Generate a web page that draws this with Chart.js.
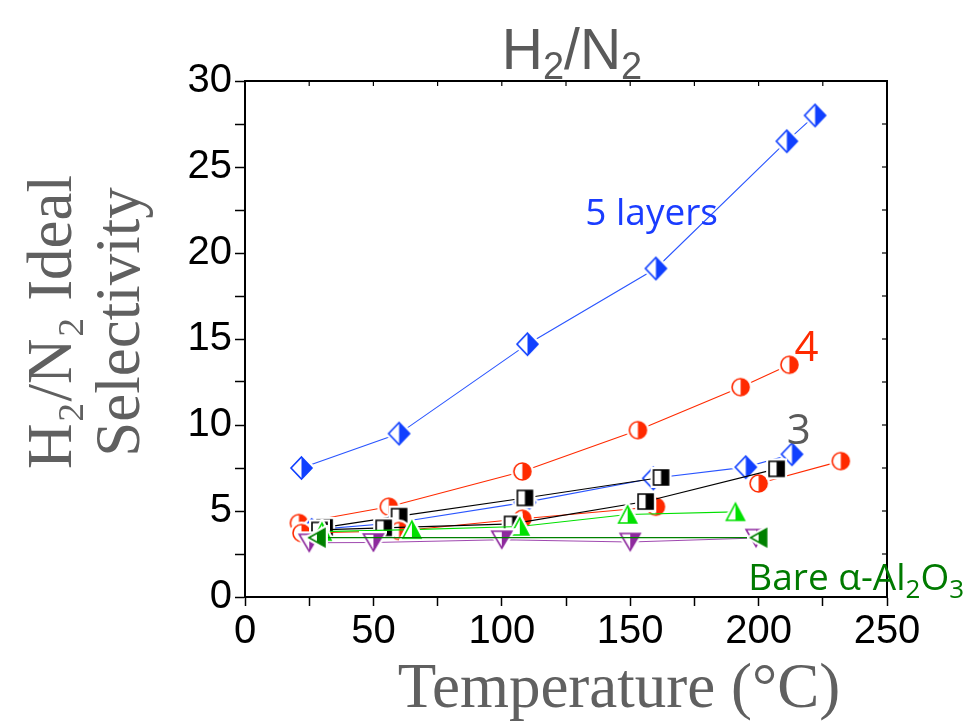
<!DOCTYPE html>
<html>
<head>
<meta charset="utf-8">
<script src="https://cdn.jsdelivr.net/npm/chart.js@4.4.1/dist/chart.umd.min.js"></script>
<style>
  body { margin: 0; background: #fff; }
  #c { display: block; }
</style>
</head>
<body>
<canvas id="c" width="969" height="726"></canvas>
<script>
// ---- data (temperature in °C, ideal H2/N2 selectivity) ----
const layers5T = [22, 60, 110, 160, 211, 222];
const layers5V = [7.5, 9.5, 14.7, 19.1, 26.5, 28.0];

const layers4T = [21, 56, 108, 153, 193, 212];
const layers4V = [4.3, 5.25, 7.3, 9.7, 12.2, 13.5];

const redLowT = [22, 60, 108, 160];
const redLowV = [3.72, 3.84, 4.55, 5.25];
const redHighT = [200, 232];
const redHighV = [6.6, 7.9];

const blackUpT = [31, 60, 109, 162];
const blackUpV = [4.05, 4.7, 5.76, 6.95];
const blackLowT = [29, 54, 104, 156, 207];
const blackLowV = [3.9, 4.02, 4.25, 5.55, 7.45];

const blueLowT = [26, 58, 109, 159, 195, 213];
const blueLowV = [3.9, 4.3, 5.5, 6.9, 7.55, 8.3];

const greenT = [30, 65, 107, 149, 191];
const greenV = [3.8, 3.92, 4.1, 4.8, 4.95];

const bareT = [28, 200];
const bareV = [3.45, 3.45];

const purpleT = [25, 50, 100, 150, 199];
const purpleV = [3.15, 3.17, 3.33, 3.2, 3.43];

const xTicks = [0, 50, 100, 150, 200, 250];
const yTicks = [0, 5, 10, 15, 20, 25, 30];

const pts = (T, V) => T.map((t, i) => ({ x: t, y: V[i] }));

// half filled (right half) markers with white halo, origin style
function marker(shape, color, w, h) {
  const pad = 4;
  const c = document.createElement('canvas');
  c.width = w + pad * 2; c.height = h + pad * 2;
  const g = c.getContext('2d');
  const cx = c.width / 2, cy = c.height / 2;
  const path = () => {
    g.beginPath();
    if (shape == 'diamond') {
      g.moveTo(cx, cy - h / 2); g.lineTo(cx + w / 2, cy); g.lineTo(cx, cy + h / 2); g.lineTo(cx - w / 2, cy); g.closePath();
    } else if (shape == 'circle') {
      g.arc(cx, cy, w / 2, 0, Math.PI * 2);
    } else if (shape == 'square') {
      g.rect(cx - w / 2, cy - h / 2, w, h);
    } else if (shape == 'up') {
      g.moveTo(cx, cy - h / 2); g.lineTo(cx + w / 2, cy + h / 2); g.lineTo(cx - w / 2, cy + h / 2); g.closePath();
    } else if (shape == 'down') {
      g.moveTo(cx - w / 2, cy - h / 2); g.lineTo(cx + w / 2, cy - h / 2); g.lineTo(cx, cy + h / 2); g.closePath();
    } else if (shape == 'left') {
      g.moveTo(cx - w / 2, cy); g.lineTo(cx + w / 2, cy - h / 2); g.lineTo(cx + w / 2, cy + h / 2); g.closePath();
    }
  };
  path(); g.lineWidth = 6; g.strokeStyle = '#fff'; g.stroke();
  g.fillStyle = '#fff'; g.fill();
  g.save(); g.beginPath(); g.rect(cx, 0, c.width, c.height); g.clip();
  path(); g.fillStyle = color; g.fill(); g.restore();
  path(); g.lineWidth = 1.6; g.strokeStyle = color; g.stroke();
  return c;
}

const BLUE = '#1040ff', RED = '#ff2a00', BLACK = '#000', GREEN = '#00e000', DKGREEN = '#008000', PURPLE = '#8e2a9e';

const ds = (T, V, color, lineColor, shape, w, h) => ({
  data: pts(T, V),
  showLine: true,
  borderColor: lineColor,
  borderWidth: 1.1,
  pointStyle: marker(shape, color, w, h),
  pointRadius: 9
});

const datasets = [
  ds(bareT, bareV, DKGREEN, DKGREEN, 'left', 16, 18),
  ds(purpleT, purpleV, PURPLE, '#a04ab0', 'down', 20, 17),
  ds(greenT, greenV, GREEN, GREEN, 'up', 18, 17),
  ds(blackLowT, blackLowV, BLACK, BLACK, 'square', 15, 15),
  ds(redLowT, redLowV, RED, RED, 'circle', 17, 17),
  ds(redHighT, redHighV, RED, RED, 'circle', 17, 17),
  ds(blackUpT, blackUpV, BLACK, BLACK, 'square', 15, 15),
  ds(blueLowT, blueLowV, BLUE, '#2a55ff', 'diamond', 21, 22),
  ds(layers4T, layers4V, RED, RED, 'circle', 17, 17),
  ds(layers5T, layers5V, BLUE, '#2a55ff', 'diamond', 21, 22)
];

// frame, inner ticks, axis titles and labels
const extras = {
  id: 'extras',
  afterDraw(chart) {
    const g = chart.ctx, xs = chart.scales.x, ys = chart.scales.y;
    const a = chart.chartArea;
    g.save();
    g.strokeStyle = '#000'; g.lineWidth = 2;
    g.beginPath();
    g.moveTo(a.left - 1, a.top); g.lineTo(a.right, a.top); g.lineTo(a.right, a.bottom + 1);
    g.stroke();
    g.lineWidth = 1.2;
    for (let v = 25; v < 250; v += 25) {
      const p = xs.getPixelForValue(v);
      g.beginPath(); g.moveTo(p, a.top); g.lineTo(p, a.top + 5); g.stroke();
    }
    for (let v = 2.5; v < 30; v += 2.5) {
      const p = ys.getPixelForValue(v);
      g.beginPath(); g.moveTo(a.right, p); g.lineTo(a.right - 5, p); g.stroke();
    }

    // title H2/N2
    g.fillStyle = '#5a5a5a';
    g.textBaseline = 'alphabetic';
    g.textAlign = 'left';
    const big = '57px "Liberation Sans Narrow", "Liberation Sans", Arial';
    const sub = '38px "Liberation Sans Narrow", "Liberation Sans", Arial';
    const parts = [['H', big, 0], ['2', sub, 10], ['/N', big, 0], ['2', sub, 10]];
    let tw = 0;
    parts.forEach(p => { g.font = p[1]; tw += g.measureText(p[0]).width; });
    let tx = 572 - tw / 2;
    parts.forEach(p => { g.font = p[1]; g.fillText(p[0], tx, 69 + p[2]); tx += g.measureText(p[0]).width; });

    // axis titles
    g.fillStyle = '#606060';
    g.font = '63px "Liberation Serif", "Times New Roman", serif';
    g.textAlign = 'center';
    g.fillText('Temperature (°C)', 619, 707);
    g.save();
    g.translate(0, 322);
    g.rotate(-Math.PI / 2);
    g.textBaseline = 'middle';
    g.fillText('H₂/N₂ Ideal', 0, 54);
    g.fillText('Selectivity', 0, 122);
    g.restore();

    // series labels
    g.textAlign = 'left';
    g.textBaseline = 'alphabetic';
    g.font = '37px "Open Sans", sans-serif';
    g.fillStyle = '#1a3cff';
    g.fillText('5 layers', xs.getPixelForValue(132.5), ys.getPixelForValue(21.6));
    g.font = '42px "Open Sans", sans-serif';
    g.fillStyle = '#ff2a00';
    g.fillText('4', xs.getPixelForValue(214), ys.getPixelForValue(13.7));
    g.fillStyle = '#5a5a5a';
    g.fillText('3', xs.getPixelForValue(211), ys.getPixelForValue(8.9));
    g.fillStyle = '#007a00';
    const bx = xs.getPixelForValue(196), by = ys.getPixelForValue(0.4);
    g.font = '37px "Open Sans", sans-serif';
    g.fillText('Bare α-Al', bx, by);
    let w1 = g.measureText('Bare α-Al').width;
    g.font = '26px "Open Sans", sans-serif';
    g.fillText('2', bx + w1, by + 8);
    let w2 = g.measureText('2').width;
    g.font = '37px "Open Sans", sans-serif';
    g.fillText('O', bx + w1 + w2, by);
    let w3 = g.measureText('O').width;
    g.font = '26px "Open Sans", sans-serif';
    g.fillText('3', bx + w1 + w2 + w3, by + 8);
    g.restore();
  }
};

const tickFont = { family: '"Liberation Sans", Arial, sans-serif', size: 40 };

new Chart(document.getElementById('c'), {
  type: 'scatter',
  data: { datasets },
  options: {
    responsive: false,
    animation: false,
    layout: { padding: { top: 81, right: 82, left: 0, bottom: 0 } },
    plugins: { legend: { display: false }, tooltip: { enabled: false } },
    scales: {
      x: {
        type: 'linear', min: 0, max: 250,
        border: { color: '#000', width: 2 },
        grid: { drawOnChartArea: false, color: '#000', tickLength: 9, tickWidth: 1.5 },
        ticks: {
          stepSize: 25, autoSkip: false, maxRotation: 0, color: '#000', font: tickFont, padding: 2,
          callback: v => xTicks.includes(v) ? v : ''
        },
        afterFit: s => { s.height = 129; }
      },
      y: {
        type: 'linear', min: 0, max: 30,
        border: { color: '#000', width: 2 },
        grid: { drawOnChartArea: false, color: '#000', tickLength: 10, tickWidth: 1.5 },
        ticks: {
          stepSize: 2.5, autoSkip: false, color: '#000', font: tickFont, padding: 3,
          callback: v => yTicks.includes(v) ? v : ''
        },
        afterFit: s => { s.width = 245; }
      }
    }
  },
  plugins: [extras]
});
</script>
</body>
</html>
